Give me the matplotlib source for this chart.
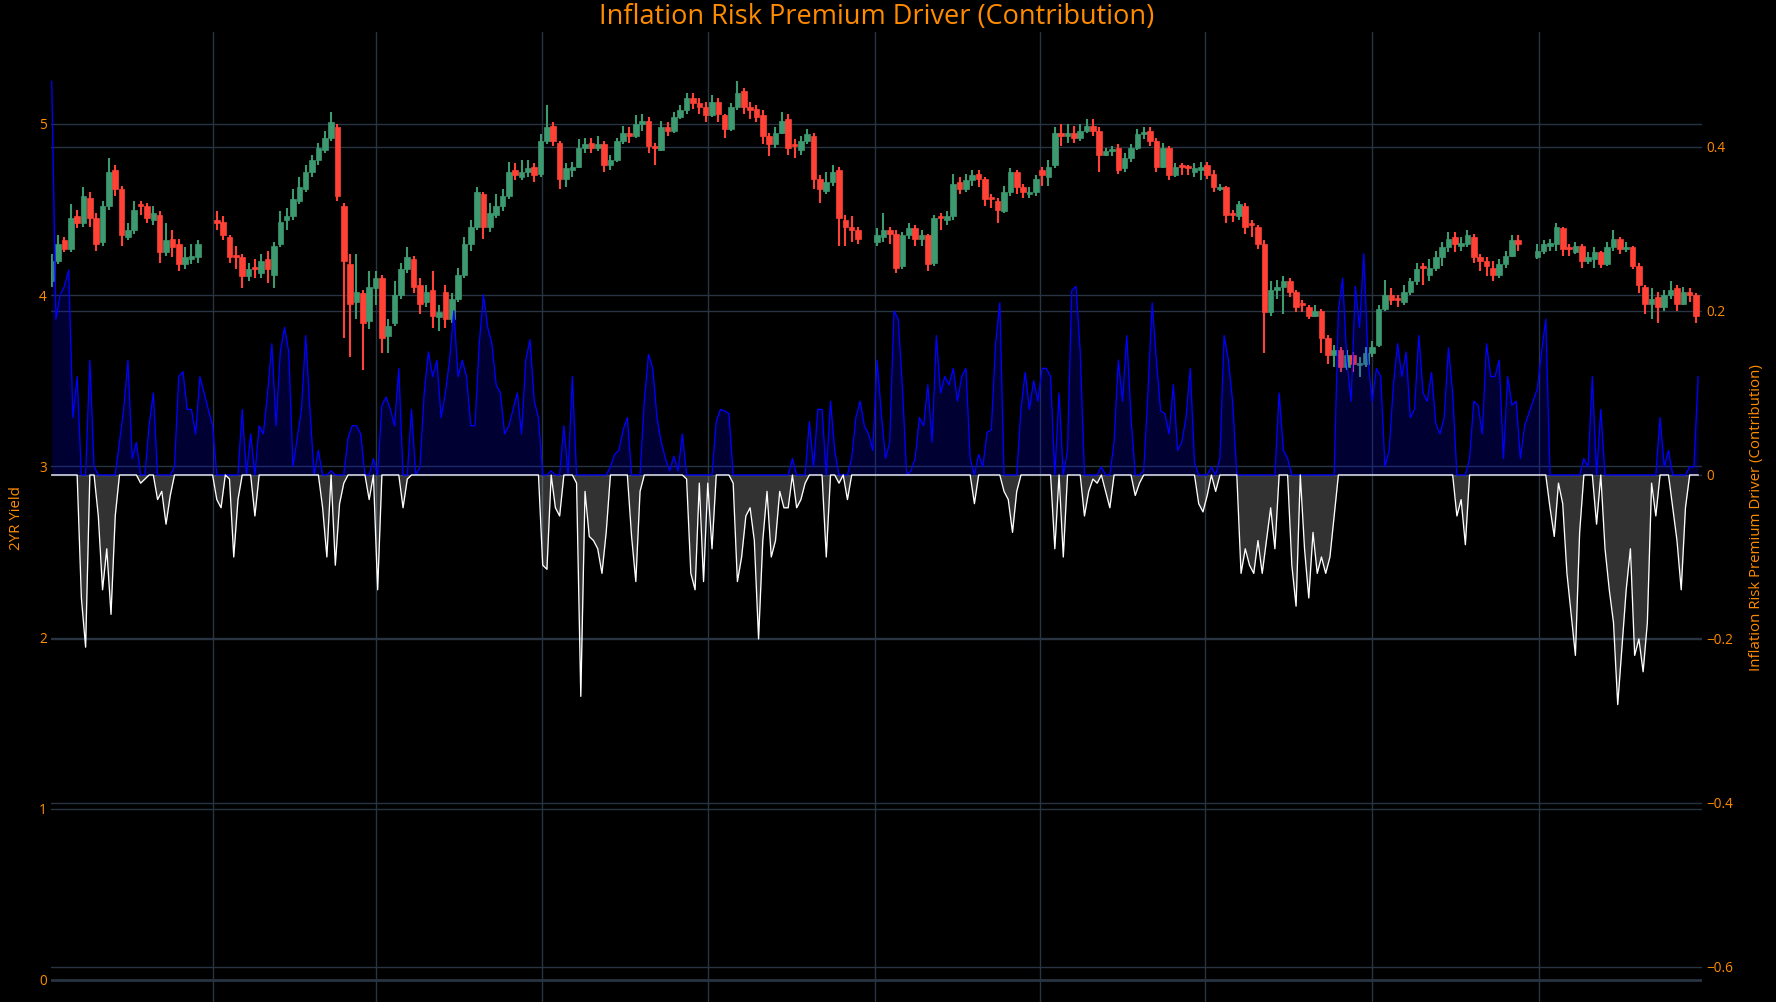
import numpy as np
import pandas as pd
import matplotlib
matplotlib.use("Agg")
import matplotlib.pyplot as plt
import matplotlib.dates as mdates

plt.rcParams['font.family'] = ['Open Sans', 'DejaVu Sans']

nan = float('nan')
title = "Inflation Risk Premium Driver (Contribution)"
left_label = "2YR Yield"
right_label = "Inflation Risk Premium Driver (Contribution)"

# 2YR yield candles (half-weekly)
candle_start = "2022-10-04"
candle_step = "84h"
opens = [4.08,4.20,4.32,4.27,4.46,4.42,4.57,4.45,4.31,4.52,4.73,4.62,4.34,4.38,4.52,4.52,4.44,4.47,4.25,4.33,4.30,4.18,4.21,4.22,nan,nan,
 4.44,4.43,4.34,4.22,4.22,4.11,4.15,4.13,4.21,4.12,4.30,4.44,4.46,4.55,4.62,4.72,4.79,4.85,4.92,4.98,4.52,4.18,3.96,4.01,
 3.85,4.04,4.10,3.76,3.84,4.00,4.15,4.21,4.06,3.96,4.03,3.87,4.02,3.86,3.98,4.12,4.30,4.40,4.59,4.40,
 4.47,4.52,4.58,4.73,4.69,4.72,4.75,4.71,4.90,4.99,4.89,4.68,4.73,4.75,4.86,4.89,4.86,4.88,4.76,4.79,
 4.90,4.95,4.93,5.00,5.02,4.86,4.85,4.98,4.96,5.04,5.08,5.15,5.12,5.10,5.05,5.13,5.05,4.97,5.10,5.19,
 5.10,5.09,5.05,4.93,4.88,4.95,5.03,4.87,4.85,4.90,4.93,4.68,4.61,4.66,4.73,4.44,4.40,4.38,nan,nan,
 4.31,4.34,4.38,4.36,4.17,4.35,4.39,4.33,4.35,4.19,4.45,4.44,4.46,4.66,4.62,4.67,4.71,4.68,4.56,4.55,
 4.49,4.60,4.72,4.63,4.59,4.60,4.73,4.69,4.76,4.95,4.93,4.95,4.92,4.96,4.99,4.96,4.82,4.84,4.86,4.74,
 4.80,4.86,4.94,4.96,4.90,4.75,4.86,4.70,4.75,4.74,4.72,4.73,4.76,4.71,4.62,4.63,4.47,4.46,4.52,4.41,
 4.40,4.30,3.90,4.03,4.05,4.08,4.02,3.94,3.93,3.88,3.91,3.75,3.65,3.68,3.58,3.65,3.59,3.60,3.66,3.71,
 3.92,4.00,3.97,3.96,4.02,4.08,4.16,4.12,4.16,4.22,4.28,4.34,4.29,4.30,4.34,4.22,4.20,4.16,4.12,4.18,
 4.23,4.32,nan,nan,4.22,4.26,4.29,4.30,4.39,4.27,4.25,4.29,4.20,4.21,4.25,4.18,4.28,4.33,4.27,4.28,
 4.17,4.05,3.95,3.99,3.93,4.00,4.04,3.95,4.02,4.00]
highs = [4.24,4.35,4.34,4.53,4.50,4.63,4.60,4.48,4.55,4.80,4.76,4.64,4.42,4.55,4.55,4.54,4.52,4.49,4.42,4.38,4.33,4.28,4.30,4.32,nan,nan,
 4.49,4.46,4.35,4.29,4.24,4.19,4.21,4.24,4.26,4.31,4.49,4.51,4.62,4.69,4.76,4.82,4.89,4.96,5.07,5.00,4.54,4.24,4.24,4.03,
 4.14,4.14,4.12,3.86,4.08,4.19,4.28,4.23,4.10,4.06,4.14,3.94,4.06,4.01,4.16,4.34,4.44,4.63,4.60,4.54,
 4.59,4.62,4.78,4.77,4.79,4.79,4.77,4.94,5.11,5.01,4.90,4.77,4.78,4.91,4.92,4.92,4.93,4.90,4.82,4.92,
 4.99,4.98,5.05,5.06,5.04,4.89,5.02,5.01,5.07,5.11,5.18,5.18,5.15,5.13,5.17,5.15,5.06,5.12,5.25,5.21,
 5.13,5.11,5.08,4.95,4.98,5.07,5.06,4.91,4.93,4.97,4.95,4.70,4.72,4.76,4.75,4.47,4.46,4.40,nan,nan,
 4.39,4.48,4.40,4.38,4.37,4.42,4.41,4.38,4.36,4.47,4.48,4.49,4.71,4.69,4.71,4.73,4.73,4.69,4.59,4.57,
 4.64,4.74,4.73,4.65,4.63,4.70,4.75,4.79,4.98,5.00,5.00,4.99,5.00,5.03,5.03,4.98,4.86,4.87,4.88,4.83,
 4.88,4.97,4.98,4.98,4.92,4.89,4.87,4.77,4.77,4.76,4.77,4.78,4.78,4.73,4.65,4.64,4.50,4.55,4.54,4.44,
 4.41,4.32,4.08,4.09,4.11,4.10,4.03,3.97,3.94,3.94,3.92,3.77,3.71,3.70,3.68,3.67,3.64,3.70,3.73,3.94,
 4.09,4.04,4.00,4.06,4.10,4.19,4.19,4.21,4.26,4.31,4.37,4.37,4.34,4.38,4.36,4.24,4.22,4.20,4.21,4.26,
 4.35,4.35,nan,nan,4.30,4.32,4.33,4.42,4.40,4.30,4.31,4.30,4.25,4.28,4.26,4.31,4.38,4.34,4.31,4.29,
 4.19,4.06,4.04,4.02,4.03,4.08,4.06,4.05,4.04,4.01]
lows = [4.05,4.18,4.25,4.25,4.39,4.40,4.40,4.26,4.29,4.50,4.58,4.29,4.32,4.36,4.47,4.42,4.41,4.19,4.23,4.22,4.14,4.15,4.18,4.19,nan,nan,
 4.38,4.32,4.19,4.15,4.04,4.08,4.10,4.10,4.07,4.04,4.28,4.38,4.44,4.53,4.60,4.69,4.76,4.83,4.90,4.55,3.75,3.64,3.86,3.56,
 3.80,3.94,3.66,3.66,3.82,3.98,4.13,4.01,3.89,3.93,3.81,3.79,3.81,3.84,3.96,4.10,4.26,4.38,4.33,4.37,
 4.45,4.49,4.56,4.67,4.67,4.69,4.66,4.69,4.88,4.87,4.62,4.63,4.69,4.74,4.83,4.83,4.84,4.72,4.73,4.78,
 4.88,4.89,4.92,4.96,4.83,4.76,4.84,4.93,4.95,5.03,5.06,5.09,5.06,5.01,5.04,5.01,4.92,4.96,5.08,5.06,
 5.03,5.01,4.88,4.81,4.86,4.94,4.82,4.80,4.82,4.88,4.62,4.54,4.59,4.64,4.29,4.29,4.31,4.30,nan,nan,
 4.29,4.31,4.30,4.13,4.15,4.33,4.29,4.29,4.14,4.17,4.38,4.41,4.44,4.59,4.60,4.64,4.63,4.52,4.51,4.42,
 4.48,4.58,4.59,4.57,4.57,4.58,4.64,4.64,4.74,4.87,4.89,4.89,4.90,4.95,4.93,4.72,4.81,4.81,4.71,4.72,
 4.78,4.85,4.91,4.87,4.72,4.74,4.67,4.69,4.70,4.70,4.69,4.67,4.68,4.60,4.61,4.42,4.43,4.44,4.36,4.34,
 4.27,3.66,3.88,3.98,3.89,3.99,3.90,3.90,3.86,3.87,3.66,3.60,3.58,3.55,3.56,3.55,3.52,3.58,3.64,3.70,
 3.91,3.94,3.93,3.94,4.00,4.06,4.06,4.08,4.14,4.17,4.25,4.25,4.26,4.28,4.19,4.14,4.11,4.08,4.10,4.16,
 4.22,4.26,nan,nan,4.21,4.24,4.26,4.26,4.23,4.23,4.24,4.16,4.18,4.16,4.16,4.17,4.26,4.24,4.25,4.15,
 4.01,3.89,3.86,3.84,3.91,3.98,3.91,3.94,3.96,3.84]
closes = [4.20,4.30,4.27,4.45,4.42,4.58,4.45,4.30,4.52,4.72,4.62,4.35,4.38,4.50,4.51,4.45,4.48,4.25,4.32,4.28,4.18,4.22,4.23,4.30,nan,nan,
 4.42,4.35,4.22,4.21,4.11,4.15,4.14,4.20,4.15,4.29,4.43,4.46,4.56,4.63,4.72,4.79,4.86,4.92,5.01,4.58,4.20,3.95,4.02,3.84,
 4.05,4.10,3.75,3.82,4.00,4.15,4.22,4.05,3.95,4.02,3.88,3.90,3.86,3.98,4.12,4.30,4.40,4.60,4.40,4.48,
 4.52,4.58,4.72,4.70,4.72,4.74,4.70,4.90,4.98,4.90,4.68,4.74,4.75,4.86,4.88,4.86,4.88,4.76,4.79,4.90,
 4.95,4.93,5.00,5.02,4.87,4.85,4.98,4.96,5.04,5.08,5.15,5.12,5.10,5.05,5.13,5.06,4.97,5.10,5.18,5.10,
 5.08,5.04,4.93,4.88,4.95,5.02,4.86,4.86,4.90,4.94,4.68,4.62,4.66,4.72,4.45,4.40,4.38,4.33,nan,nan,
 4.35,4.38,4.36,4.16,4.35,4.39,4.33,4.35,4.18,4.45,4.44,4.46,4.65,4.62,4.67,4.70,4.68,4.56,4.55,4.50,
 4.60,4.72,4.63,4.60,4.60,4.68,4.70,4.75,4.95,4.93,4.95,4.92,4.96,4.99,4.96,4.82,4.84,4.85,4.73,4.80,
 4.86,4.94,4.95,4.90,4.75,4.86,4.70,4.75,4.74,4.73,4.74,4.75,4.70,4.63,4.63,4.47,4.46,4.53,4.40,4.40,
 4.30,3.90,4.03,4.05,4.08,4.02,3.93,3.93,3.88,3.91,3.75,3.65,3.68,3.58,3.65,3.60,3.60,3.66,3.70,3.92,
 4.00,3.97,3.96,4.02,4.08,4.15,4.15,4.16,4.22,4.28,4.33,4.30,4.30,4.35,4.22,4.20,4.17,4.12,4.18,4.23,
 4.32,4.30,nan,nan,4.26,4.30,4.30,4.40,4.27,4.26,4.29,4.20,4.22,4.25,4.18,4.28,4.33,4.27,4.28,4.17,
 4.06,3.95,3.98,3.93,4.00,4.03,3.95,4.02,4.00,3.88]

# Contribution series (three points per week)
contrib_start = "2022-10-04"
contrib_step = "56h"
contribution = [
 0.48,0.19,0.22,0.23,0.25,0.07,0.12,-0.15,-0.21,0.14,0.01,-0.05,-0.14,-0.09,-0.17,-0.05,0.04,0.08,0.14,0.02,
 0.04,-0.01,-0.005,0.06,0.10,-0.03,-0.02,-0.06,-0.025,0.01,0.12,0.126,0.08,0.08,0.05,0.12,0.10,0.08,0.06,-0.03,
 -0.04,0.0,-0.005,-0.10,-0.03,0.08,0.0,0.05,-0.05,0.06,0.05,0.10,0.16,0.06,0.15,0.18,0.15,0.01,0.045,0.08,
 0.17,0.08,0.0,0.03,-0.04,
 -0.10,0.005,-0.11,-0.035,-0.01,0.045,0.06,0.06,0.05,0.0,-0.03,0.02,-0.14,0.085,0.095,0.08,0.06,0.13,-0.04,-0.005,
 0.08,0.0,0.01,0.10,0.15,0.12,0.14,0.07,0.10,0.14,0.20,0.12,0.14,0.12,0.06,0.06,0.16,0.22,0.18,0.16,
 0.11,0.10,0.05,0.06,0.08,0.10,0.05,0.14,0.165,0.09,0.07,-0.11,-0.115,0.005,-0.04,-0.05,0.06,0.0,0.12,-0.01,
 -0.27,-0.02,-0.075,-0.08,-0.09,
 -0.12,-0.07,0.01,0.025,0.03,0.055,0.07,-0.075,-0.13,-0.02,0.09,0.147,0.13,0.07,0.04,0.02,0.005,0.023,0.005,0.05,
 -0.005,-0.12,-0.14,-0.01,-0.13,-0.01,-0.09,0.065,0.08,0.078,0.075,-0.01,-0.13,-0.10,-0.05,-0.04,-0.08,-0.20,-0.08,-0.02,
 -0.10,-0.08,-0.02,-0.04,-0.04,0.02,-0.04,-0.03,-0.01,0.065,0.01,0.08,0.08,-0.10,0.09,0.03,-0.01,0.0,-0.03,0.02,
 0.07,0.09,0.06,0.05,0.03,
 0.14,0.075,0.02,0.04,0.20,0.19,0.105,0.0,0.005,0.02,0.07,0.06,0.11,0.04,0.17,0.10,0.12,0.11,0.13,0.09,
 0.12,0.13,0.02,-0.035,0.025,0.01,0.052,0.055,0.16,0.21,-0.02,-0.03,-0.07,-0.02,0.08,0.125,0.08,0.115,0.09,0.13,
 0.13,0.12,-0.09,0.10,-0.10,0.03,0.225,0.23,0.15,-0.05,-0.02,-0.005,-0.01,0.01,-0.02,-0.04,0.04,0.14,0.09,0.17,
 0.07,-0.025,-0.01,0.005,0.10,
 0.21,0.14,0.078,0.075,0.05,0.11,0.03,0.04,0.07,0.13,0.015,-0.035,-0.045,-0.025,0.01,-0.02,0.02,0.17,0.14,0.09,
 0.0,-0.12,-0.09,-0.11,-0.12,-0.08,-0.12,-0.08,-0.04,-0.09,0.10,0.03,0.02,-0.11,-0.16,0.0,-0.09,-0.15,-0.07,-0.12,
 -0.10,-0.12,-0.10,-0.05,0.20,0.24,0.14,0.09,0.23,0.18,0.27,0.14,0.09,0.13,0.12,0.01,0.03,0.11,0.16,0.12,
 0.15,0.07,0.08,0.17,0.10,
 0.09,0.125,0.063,0.05,0.07,0.155,0.10,-0.05,-0.03,-0.085,0.02,0.09,0.085,0.05,0.16,0.12,0.12,0.14,0.02,0.12,
 0.085,0.09,0.02,0.06,0.075,0.09,0.105,0.15,0.19,-0.04,-0.075,-0.01,-0.035,-0.12,-0.17,-0.22,-0.07,0.02,0.01,0.12,
 -0.06,0.08,-0.09,-0.14,-0.18,-0.28,-0.21,-0.14,-0.09,-0.22,-0.20,-0.24,-0.18,-0.01,-0.05,0.07,0.01,0.03,-0.04,-0.08,
 -0.14,-0.04,0.01,0.01,0.12]

left_ticks = [0, 1, 2, 3, 4, 5]
right_ticks = [-0.6, -0.4, -0.2, 0, 0.2, 0.4]
quarter_lines = ["2023-01-01", "2023-04-01", "2023-07-01", "2023-10-01", "2024-01-01",
                 "2024-04-01", "2024-07-01", "2024-10-01", "2025-01-01"]

# ---------------------------------------------------------------
W, H = 1776, 1002
fig = plt.figure(figsize=(W / 100, H / 100), dpi=100, facecolor="black")
ax = fig.add_axes([51 / W, 0, (1702 - 51) / W, (1002 - 32) / H])
ax.set_facecolor("black")
ax2 = ax.twinx()
ax2.patch.set_visible(False)

orange = "#FF8C00"
grid_c = "#283442"

cdates = pd.date_range(candle_start, periods=len(closes), freq=candle_step)
o = np.array(opens, float); c = np.array(closes, float)
h = np.array(highs, float); l = np.array(lows, float)
up = c >= o
inc, dec = "#3D9970", "#FF4136"
cols = np.where(up, inc, dec)
bw = pd.Timedelta(hours=74)
valid = ~np.isnan(c)
body_h = np.where(np.abs(c - o) < 0.012, 0.012, c - o)
ax.vlines(cdates[valid], l[valid], h[valid], colors=cols[valid], lw=1.5, zorder=3)
ax.bar(cdates[valid], body_h[valid], bottom=o[valid], width=bw, color=cols[valid],
       edgecolor=cols[valid], lw=0.5, zorder=4)

ylim_l = (-0.1285, 5.537)
ylim_r = (-0.6427, 0.5402)
ax.set_ylim(*ylim_l)
ax2.set_ylim(*ylim_r)
x0 = pd.Timestamp("2022-10-03 14:00")
x1 = pd.Timestamp("2025-03-31 19:00")
ax.set_xlim(x0, x1)

# grid lines (all below the data)
for v in left_ticks:
    ax.axhline(v, color=grid_c, lw=2.0 if v == 0 else 1.0, zorder=0)
for v in right_ticks:
    yl = ylim_l[0] + (v - ylim_r[0]) / (ylim_r[1] - ylim_r[0]) * (ylim_l[1] - ylim_l[0])
    ax.axhline(yl, color=grid_c, lw=1.0, zorder=0)
for q in quarter_lines:
    ax.axvline(pd.Timestamp(q), color=grid_c, lw=1.0, zorder=0)

# contribution traces
kdates = pd.date_range(contrib_start, periods=len(contribution), freq=contrib_step)
cv = np.array(contribution, float)
pos = np.where(cv > 0, cv, 0.0)
neg = np.where(cv < 0, cv, 0.0)
ax2.fill_between(kdates, 0, pos, color="blue", alpha=0.2, lw=0, zorder=2)
ax2.plot(kdates, pos, color="blue", lw=0.95, zorder=3)
ax2.fill_between(kdates, 0, neg, color="white", alpha=0.2, lw=0, zorder=2)
ax2.plot(kdates, neg, color="white", lw=0.95, zorder=4)

ax.set_yticks(left_ticks)
ax.set_yticklabels([str(t) for t in left_ticks])
ax2.set_yticks(right_ticks)
ax2.set_yticklabels(["\u22120.6", "\u22120.4", "\u22120.2", "0", "0.2", "0.4"])
ax.tick_params(axis="y", colors=orange, labelcolor=orange, length=0, pad=3, labelsize=9.8)
ax2.tick_params(axis="y", colors=orange, labelcolor=orange, length=0, pad=3, labelsize=9.8)
ax.tick_params(axis="x", length=0, labelbottom=False)
ax2.tick_params(axis="x", length=0, labelbottom=False)
ax.set_xticks([])
for a in (ax, ax2):
    for s in a.spines.values():
        s.set_visible(False)

fig.text(877 / W, 1 - 17 / H, title, ha="center", va="center", fontsize=19.5, color=orange)
fig.text(17 / W, 1 - 518 / H, left_label, rotation=90, ha="center", va="center",
         fontsize=10.8, color=orange)
fig.text(1756 / W, 1 - 518 / H, right_label, rotation=90, ha="center", va="center",
         fontsize=10.8, color=orange)

fig.savefig("out.png", dpi=100, facecolor="black")
